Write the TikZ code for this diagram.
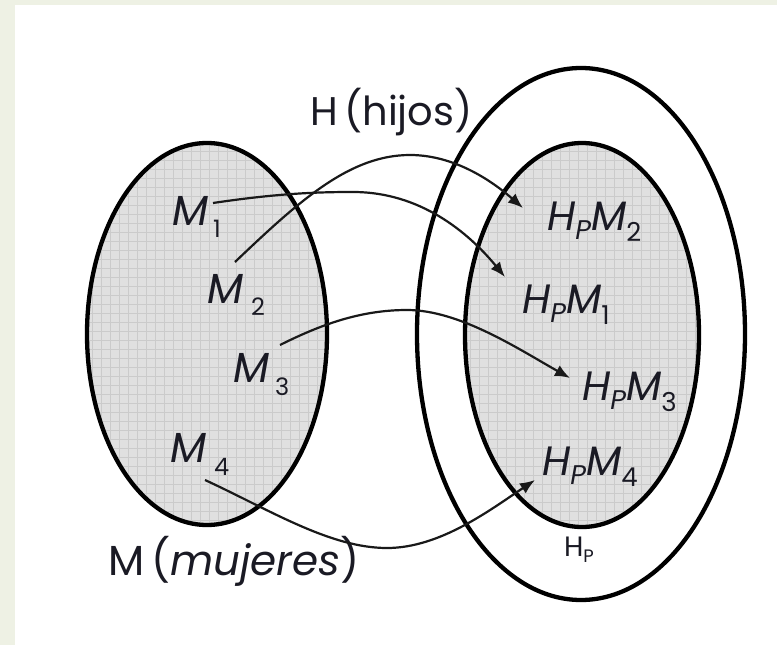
\documentclass[tikz,border=0pt]{standalone}
\usepackage{fontspec}
\setmainfont{Poppins}
\usetikzlibrary{arrows.meta,calc}
\definecolor{bgside}{HTML}{EEF1E4}
\definecolor{setfill}{HTML}{E0E0E0}
\definecolor{gridln}{HTML}{CBCBCB}
\definecolor{ink}{HTML}{1A1A24}
\newcommand{\lbsub}[3]{\raisebox{#2}{\fontsize{#1}{#1}\selectfont #3}}
\newcommand{\bigtxt}{\fontsize{42}{48}\selectfont}
\newcommand{\hptxt}{\fontsize{41}{48}\selectfont}
\begin{document}
\begin{tikzpicture}[x=1pt,y=-1pt,
  setline/.style={line width=4.3pt, draw=black},
  conn/.style={line width=2.2pt, draw=black!90, -{Latex[length=15pt,width=12pt]}},
  lbl/.style={anchor=base west, inner sep=0pt, outer sep=0pt, text=ink}]
\useasboundingbox (0,0) rectangle (777,645);
\fill[bgside] (0,0) rectangle (777,645);
\fill[white] (15,5) rectangle (777,645);
% left set M
\begin{scope}
  \clip (207,334) ellipse [x radius=120, y radius=191];
  \fill[setfill] (80,140) rectangle (340,530);
  \foreach \gx in {83,92,...,335} \draw[gridln, line width=0.6pt] (\gx,140) -- (\gx,530);
  \foreach \gy in {142,151,...,530} \draw[gridln, line width=0.6pt] (80,\gy) -- (340,\gy);
\end{scope}
% inner set Hp
\begin{scope}
  \clip (582,335) ellipse [x radius=117, y radius=192];
  \fill[setfill] (460,140) rectangle (705,530);
  \foreach \gx in {461,470,...,705} \draw[gridln, line width=0.6pt] (\gx,140) -- (\gx,530);
  \foreach \gy in {142,151,...,530} \draw[gridln, line width=0.6pt] (460,\gy) -- (705,\gy);
\end{scope}
\draw[setline] (207,334) ellipse [x radius=120, y radius=191];
\draw[setline] (582,335) ellipse [x radius=117, y radius=192];
\draw[setline] (581,334) ellipse [x radius=164, y radius=266];
% labels
\node[lbl] (hlab) at (310,125) {\fontsize{40}{46}\selectfont H\,(hijos)};
\node[lbl] (mlab) at (108,575) {\bigtxt M\,(\textit{mujeres})};
\node[lbl] (m1) at (172,225) {\bigtxt\textit{M}\hspace{5pt}\lbsub{24}{-12pt}{1}};
\node[lbl] (m2) at (207,303) {\bigtxt\textit{M}\hspace{8pt}\lbsub{24}{-12pt}{2}};
\node[lbl] (m3) at (233,382) {\bigtxt\textit{M}\hspace{6pt}\lbsub{24}{-13pt}{3}};
\node[lbl] (m4) at (170,462) {\bigtxt\textit{M}\hspace{8pt}\lbsub{24}{-13pt}{4}};
\node[lbl] (hpm2) at (547,230) {\hptxt\textit{H}\lbsub{27}{-9pt}{\textit{P}}\textit{M}\lbsub{26}{-11pt}{2}};
\node[lbl] (hpm1) at (522,313) {\hptxt\textit{H}\lbsub{27}{-9pt}{\textit{P}}\textit{M}\lbsub{26}{-11pt}{1}};
\node[lbl] (hpm3) at (582,400) {\hptxt\textit{H}\lbsub{27}{-9pt}{\textit{P}}\textit{M}\lbsub{26}{-11pt}{3}};
\node[lbl] (hpm4) at (542,475) {\hptxt\textit{H}\lbsub{27}{-9pt}{\textit{P}}\textit{M}\lbsub{26}{-11pt}{4}};
\node[lbl] (hp) at (564,556) {\fontsize{28}{30}\selectfont H\lbsub{18}{-6pt}{P}};
% connectors
\draw[conn] ($(m1.base west)+(41,-22)$) .. controls (280,193) and (320,192) .. (353,192)
  .. controls (420,192) and (468,232) .. ($(hpm1.base west)+(-17,-36)$);
\draw[conn] ($(m2.base west)+(28,-41)$) .. controls (300,200) and (350,155) .. (410,155)
  .. controls (460,155) and (500,188) .. ($(hpm2.base west)+(-24,-22)$);
\draw[conn] ($(m3.base west)+(47,-37)$) .. controls (320,325) and (360,310) .. (407,310)
  .. controls (460,310) and (520,350) .. ($(hpm3.base west)+(-12,-22)$);
\draw[conn] ($(m4.base west)+(35,18)$) .. controls (270,510) and (330,548) .. (387,548)
  .. controls (440,548) and (490,510) .. ($(hpm4.base west)+(-7,5)$);
\end{tikzpicture}
\end{document}
